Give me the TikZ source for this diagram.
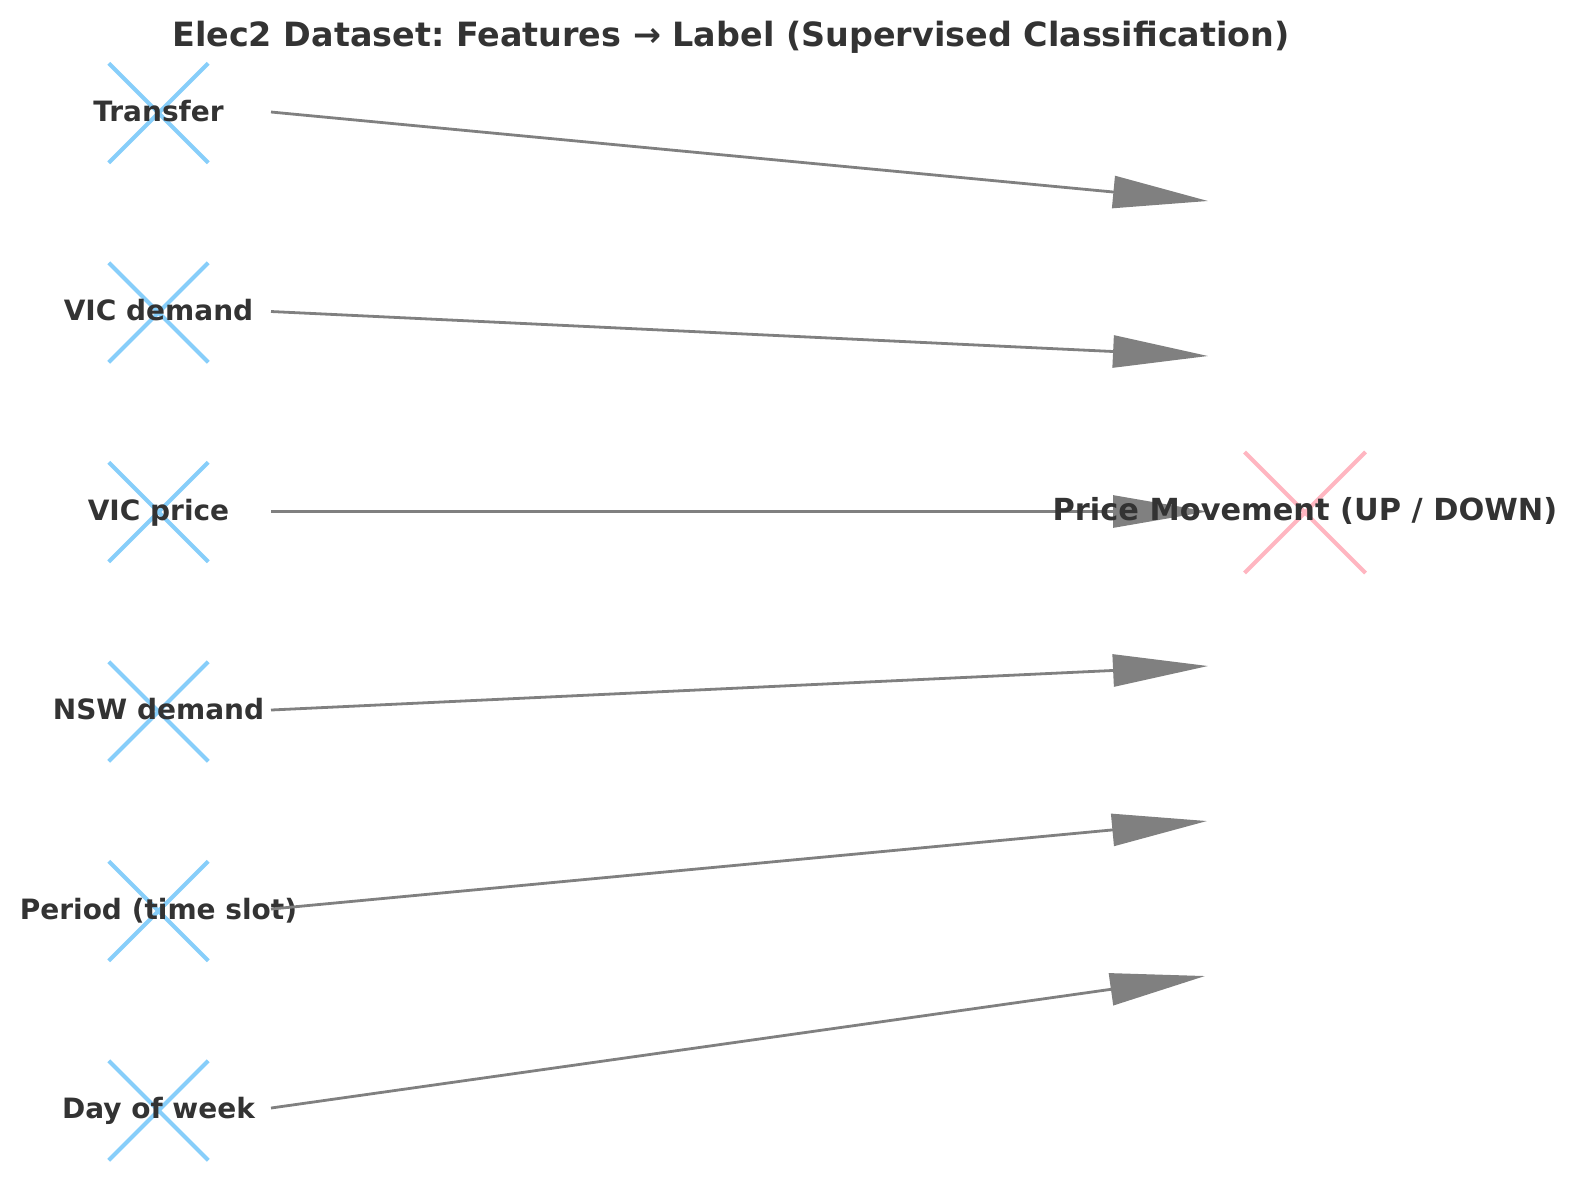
\documentclass[tikz,border=0pt]{standalone}
\usepackage{fontspec}
\setmainfont{DejaVu Sans}
\usetikzlibrary{arrows.meta, shapes.misc}
\definecolor{txtgray}{RGB}{51,51,51}
\definecolor{featblue}{RGB}{135,206,250}
\definecolor{labelpink}{RGB}{255,182,193}
\frenchspacing
\tikzset{
    featmark/.style={cross out, draw=featblue, line width=2pt,
                     minimum size=47.75pt, inner sep=0pt},
    labelmark/.style={cross out, draw=labelpink, line width=2pt,
                      minimum size=58.5pt, inner sep=0pt},
    featlbl/.style={font=\bfseries\fontsize{14}{16}\selectfont,
                    text=txtgray, inner sep=0pt,
                    text height=9pt, text depth=1pt},
    movelbl/.style={featlbl, font=\bfseries\fontsize{15.2}{18}\selectfont},
    titlelbl/.style={font=\bfseries\fontsize{16.7}{20}\selectfont,
                     text=txtgray, inner sep=0pt, anchor=base},
    arrow/.style={-{Triangle[length=47.5pt,width=16pt]}, line width=1.4pt,
                  draw=gray, fill=gray},
}

\begin{document}
\begin{tikzpicture}[x=0.5pt, y=-0.5pt]
        \useasboundingbox (0,0) rectangle (1577,1180);
        \node[titlelbl] (title) at (731,46) {Elec2 Dataset: Features → Label (Supervised Classification)};
        % markers
        \node[featmark] (mtransfer) at (158.5,113) {};
        \node[featmark] (mvicdemand) at (158.5,312.5) {};
        \node[featmark] (mvicprice) at (158.5,512) {};
        \node[featmark] (mnswdemand) at (158.5,711.5) {};
        \node[featmark] (mperiod) at (158.5,911) {};
        \node[featmark] (mday) at (158.5,1110.5) {};
        \node[labelmark] (mmove) at (1305,512.5) {};
        % feature labels
        \node[featlbl] (transfer) at (mtransfer) {Transfer};
        \node[featlbl] (vicdemand) at (mvicdemand) {VIC demand};
        \node[featlbl] (vicprice) at (mvicprice) {VIC price};
        \node[featlbl] (nswdemand) at (mnswdemand) {NSW demand};
        \node[featlbl] (period) at (mperiod) {Period (time slot)};
        \node[featlbl] (day) at (mday) {Day of week};
        % connector ends
        \coordinate (stransfer) at (271,112);
        \coordinate (svicdemand) at (271,311.5);
        \coordinate (svicprice) at (271,511.5);
        \coordinate (snswdemand) at (271,710);
        \coordinate (speriod) at (271,909);
        \coordinate (sday) at (271,1108);
        \coordinate (etransfer) at (1208,201);
        \coordinate (evicdemand) at (1208,356);
        \coordinate (evicprice) at (1208,511.5);
        \coordinate (enswdemand) at (1208,666);
        \coordinate (eperiod) at (1207,821);
        \coordinate (eday) at (1205,976);
        \draw[arrow] (stransfer) -- (etransfer);
        \draw[arrow] (svicdemand) -- (evicdemand);
        \draw[arrow] (svicprice) -- (evicprice);
        \draw[arrow] (snswdemand) -- (enswdemand);
        \draw[arrow] (speriod) -- (eperiod);
        \draw[arrow] (sday) -- (eday);
        \node[movelbl] (move) at (mmove) {Price Movement (UP / DOWN)};
    \end{tikzpicture}
\end{document}
